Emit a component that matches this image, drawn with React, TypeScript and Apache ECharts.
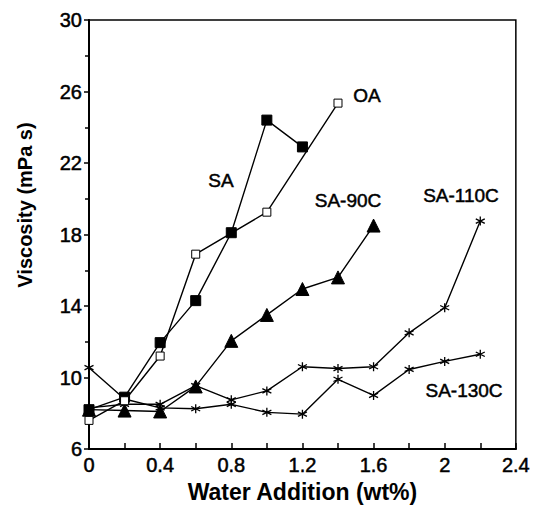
import React, { useEffect, useRef } from "react";
import * as echarts from "echarts";

const seriesNames = ["SA", "OA", "SA-90C", "SA-110C", "SA-130C"];

const saX = [0, 0.2, 0.4, 0.6, 0.8, 1.0, 1.2];
const saY = [8.2, 8.9, 11.95, 14.3, 18.1, 24.4, 22.9];

const oaX = [0, 0.2, 0.4, 0.6, 1.0, 1.4];
const oaY = [7.6, 8.7, 11.2, 16.9, 19.25, 25.35];

const sa90X = [0, 0.2, 0.4, 0.6, 0.8, 1.0, 1.2, 1.4, 1.6];
const sa90Y = [8.2, 8.15, 8.1, 9.5, 12.05, 13.5, 14.95, 15.6, 18.5];

const sa110X = [0, 0.2, 0.4, 0.6, 0.8, 1.0, 1.2, 1.4, 1.6, 1.8, 2.0, 2.2];
const sa110Y = [8.3, 8.5, 8.5, 9.55, 8.75, 9.25, 10.6, 10.5, 10.6, 12.5, 13.9, 18.75];

const sa130X = [0, 0.2, 0.4, 0.6, 0.8, 1.0, 1.2, 1.4, 1.6, 1.8, 2.0, 2.2];
const sa130Y = [10.55, 8.8, 8.3, 8.25, 8.5, 8.05, 7.95, 9.9, 9.0, 10.45, 10.9, 11.3];

const xTicks = { min: 0, max: 2.4, interval: 0.4 };
const yTicks = { min: 6, max: 30, interval: 4 };

const xTitle = "Water Addition (wt%)";
const yTitle = "Viscosity (mPa s)";

const FONT = "'Liberation Sans', Arial, Helvetica, sans-serif";
const ASTERISK = "path://M0,-10L0,10M-8.66,-5L8.66,5M-8.66,5L8.66,-5";

function zip(xs: number[], ys: number[]) {
  return xs.map((x, i) => [x, ys[i]]);
}

export default function App() {
  const ref = useRef<HTMLDivElement>(null);
  useEffect(() => {
    document.body.style.margin = "0";
    if (!ref.current) return;
    const chart = echarts.init(ref.current, null, { renderer: "svg" });
    const lineStyle = { color: "#000", width: 1.4 };
    const base = {
      type: "line",
      animation: false,
      lineStyle,
      z: 3,
    };
    const labelText = (text: string, x: number, y: number) => ({
      type: "text",
      x,
      y,
      style: {
        text,
        font: `19px ${FONT}`,
        fill: "#000",
        stroke: "#000",
        lineWidth: 0.5,
        textAlign: "center",
        textVerticalAlign: "middle",
      },
    });
    chart.setOption({
      animation: false,
      backgroundColor: "#fff",
      grid: {
        left: 89,
        right: 16,
        top: 20,
        bottom: 63,
        show: true,
        borderColor: "#000",
        borderWidth: 1.5,
        backgroundColor: "transparent",
      },
      xAxis: {
        type: "value",
        min: xTicks.min,
        max: xTicks.max,
        interval: xTicks.interval,
        name: xTitle,
        nameLocation: "middle",
        nameGap: 30,
        nameTextStyle: { fontFamily: FONT, fontSize: 23, fontWeight: "bold", color: "#000" },
        axisLine: { show: true, lineStyle: { color: "#000", width: 2 } },
        axisTick: { show: true, inside: true, length: 6, lineStyle: { color: "#000", width: 1.5 } },
        minorTick: { show: true, splitNumber: 2, length: 6, lineStyle: { color: "#000", width: 1.5 } },
        splitLine: { show: false },
        axisLabel: {
          fontFamily: FONT,
          fontSize: 20,
          color: "#000",
          margin: 6,
          textBorderColor: "#000",
          textBorderWidth: 0.5,
        },
      },
      yAxis: {
        type: "value",
        min: yTicks.min,
        max: yTicks.max,
        interval: yTicks.interval,
        axisLine: { show: true, lineStyle: { color: "#000", width: 2 } },
        axisTick: { show: true, inside: false, length: 5, lineStyle: { color: "#000", width: 1.5 } },
        minorTick: { show: true, splitNumber: 2, length: 4, lineStyle: { color: "#000", width: 1.5 } },
        splitLine: { show: false },
        axisLabel: {
          fontFamily: FONT,
          fontSize: 20,
          color: "#000",
          margin: 7,
          textBorderColor: "#000",
          textBorderWidth: 0.5,
        },
      },
      series: [
        {
          ...base,
          name: seriesNames[0],
          data: zip(saX, saY),
          symbol: "rect",
          symbolSize: 10,
          itemStyle: { color: "#000", borderColor: "#000" },
        },
        {
          ...base,
          name: seriesNames[1],
          data: zip(oaX, oaY),
          symbol: "rect",
          symbolSize: 8,
          itemStyle: { color: "#fff", borderColor: "#000", borderWidth: 1 },
          z: 4,
        },
        {
          ...base,
          name: seriesNames[2],
          data: zip(sa90X, sa90Y),
          symbol: "triangle",
          symbolSize: 13,
          itemStyle: { color: "#000", borderColor: "#000" },
        },
        {
          ...base,
          name: seriesNames[3],
          data: zip(sa110X, sa110Y),
          symbol: ASTERISK,
          symbolSize: 9,
          itemStyle: { color: "#000", borderColor: "#000", borderWidth: 1.3 },
        },
        {
          ...base,
          name: seriesNames[4],
          data: zip(sa130X, sa130Y),
          symbol: ASTERISK,
          symbolSize: 9,
          itemStyle: { color: "#000", borderColor: "#000", borderWidth: 1.3 },
        },
      ],
      graphic: [
        {
          type: "text",
          x: 25,
          y: 205,
          rotation: Math.PI / 2,
          style: {
            text: yTitle,
            font: `bold 20px ${FONT}`,
            fill: "#000",
            textAlign: "center",
            textVerticalAlign: "middle",
          },
        },
        labelText(seriesNames[0], 221, 180),
        labelText(seriesNames[1], 367, 95),
        labelText(seriesNames[2], 348, 200),
        labelText(seriesNames[3], 461, 195),
        labelText(seriesNames[4], 464, 390),
      ],
    });
    return () => chart.dispose();
  }, []);
  return <div ref={ref} style={{ width: 533, height: 512 }} />;
}
